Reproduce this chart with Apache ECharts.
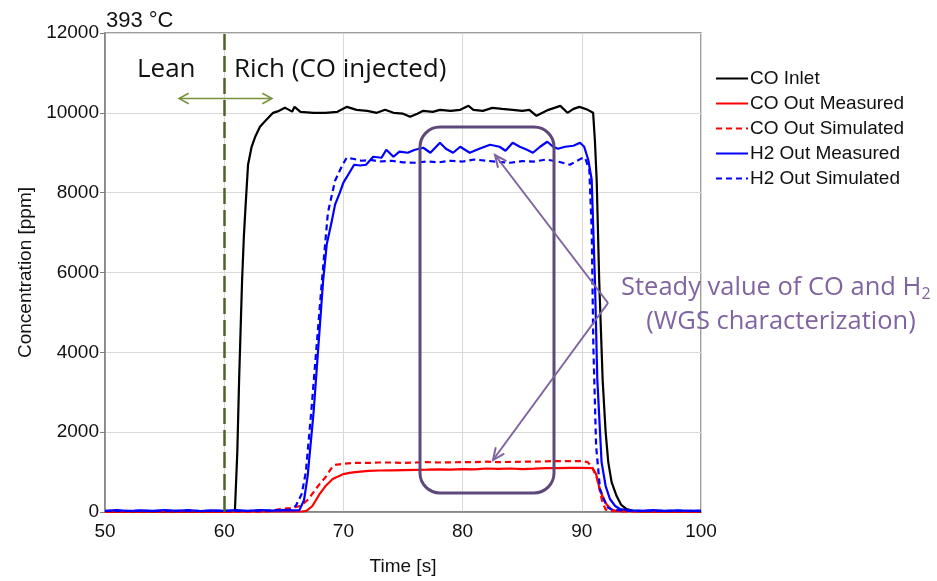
<!DOCTYPE html>
<html>
<head>
<meta charset="utf-8">
<script src="https://cdn.jsdelivr.net/npm/echarts@6/dist/echarts.min.js"></script>
<style>html,body{margin:0;padding:0;background:#fff}#c{width:937px;height:581px}</style>
</head>
<body>
<div id="c"></div>
<script>
// ---- data (time [s], concentration [ppm]) ----
const xTicks = [50, 60, 70, 80, 90, 100];
const yTicks = [0, 2000, 4000, 6000, 8000, 10000, 12000];
const seriesNames = ['CO Inlet', 'CO Out Measured', 'CO Out Simulated', 'H2 Out Measured', 'H2 Out Simulated'];

const coInlet = [[50,10],[52,15],[54,10],[56,15],[58,10],[60,12],[60.6,15],[60.9,40],[61.1,1500],[61.25,3300],[61.4,4800],[61.5,5800],[61.65,6900],[61.8,7700],[62.0,8700],[62.3,9150],[62.6,9400],[63.0,9650],[63.4,9780],[64.1,10000],[64.6,10050],[65.1,10125],[65.4,10080],[65.7,10030],[65.9,10150],[66.4,10025],[67.5,10000],[68.5,10000],[69.5,10025],[70.3,10150],[71.1,10075],[72.0,10050],[72.8,10000],[73.5,10075],[74.2,10000],[75.0,9980],[75.6,9900],[76.2,9980],[76.7,10050],[77.5,10025],[78.1,10075],[79.0,10050],[79.8,10075],[80.5,10175],[80.9,10075],[81.7,10050],[82.5,10125],[83.3,10100],[84.2,10075],[85.0,10050],[85.6,10075],[86.2,9925],[87.2,10075],[88.2,10175],[88.8,10000],[89.3,10100],[89.8,10150],[90.5,10075],[90.95,10000],[91.1,9300],[91.25,8300],[91.46,5800],[91.75,3300],[92.0,2000],[92.22,1250],[92.5,750],[92.92,400],[93.3,180],[93.76,75],[94.3,30],[95,15],[97,12],[100,10]];

const coOutMeas = [[50,10],[55,12],[60,10],[64,12],[66.5,12],[66.9,30],[67.4,150],[68.0,450],[68.5,650],[69.1,825],[69.5,880],[70.0,950],[70.5,980],[71.0,1000],[72.1,1030],[73,1040],[74,1045],[75,1050],[76,1055],[77,1060],[78,1070],[79,1060],[80,1075],[81,1070],[82,1090],[83,1080],[84,1090],[85,1075],[86,1085],[87,1100],[88,1100],[89,1105],[90,1105],[90.9,1100],[91.2,950],[91.5,575],[91.8,350],[92.1,180],[92.5,60],[93,20],[95,12],[100,10]];

const coOutSim = [[50,10],[55,10],[60,10],[63.5,12],[64.0,30],[64.7,75],[65.5,100],[66.4,150],[67.0,300],[67.5,500],[68.0,700],[68.5,870],[69.0,1100],[69.3,1180],[70,1210],[71,1230],[72,1230],[73,1240],[74,1240],[75,1230],[76,1240],[77,1250],[78,1240],[79,1245],[80,1250],[81,1250],[82,1260],[83,1250],[84,1255],[85,1260],[86,1260],[87,1270],[88,1275],[89,1275],[90,1275],[90.5,1250],[90.9,1100],[91.3,825],[91.7,280],[92.0,60],[92.5,20],[95,12],[100,10]];

const h2OutMeas = [[50,30],[51,45],[52,25],[53,40],[54,30],[55,50],[56,30],[57,45],[58,25],[59,40],[60,30],[61,45],[62,30],[63,50],[64,35],[65,45],[65.8,40],[66.3,40],[66.7,300],[67.0,900],[67.5,2500],[67.9,4150],[68.3,5800],[68.6,6700],[69.0,7250],[69.3,7700],[69.7,8000],[70.0,8250],[70.4,8450],[70.9,8700],[71.4,8680],[71.9,8700],[72.5,8900],[73.2,8875],[73.6,9075],[74.2,8900],[74.7,9030],[75.4,9000],[76.0,9075],[76.7,9125],[77.3,9000],[78.1,9250],[78.6,9100],[79.2,9000],[79.8,9150],[80.6,9000],[81.4,9100],[82.3,9200],[83.1,9150],[83.6,9050],[84.2,9250],[84.8,9150],[85.4,9075],[85.9,9000],[86.5,9150],[87.1,9275],[87.6,9150],[88.0,9100],[88.6,9150],[89.3,9175],[89.85,9250],[90.2,9150],[90.54,8825],[90.83,8325],[91.1,5825],[91.3,3325],[91.66,1250],[92.0,650],[92.36,325],[92.8,150],[93.2,75],[94,40],[95,30],[96,45],[97,30],[98,40],[99,30],[100,35]];

const h2OutSim = [[50,25],[52,30],[54,25],[56,30],[58,25],[60,30],[62,25],[64,35],[65.0,45],[65.5,60],[66.0,150],[66.5,450],[66.85,1000],[67.3,2500],[67.75,4150],[68.2,5800],[68.7,7500],[69.3,8300],[69.85,8650],[70.27,8875],[70.8,8850],[71.5,8800],[72.3,8820],[73,8780],[74,8800],[75,8760],[76,8750],[77,8780],[78,8760],[79,8800],[80,8780],[81,8830],[82,8800],[83,8770],[84,8750],[85,8790],[86,8780],[87,8830],[88,8780],[89,8700],[89.6,8800],[90.0,8860],[90.27,8875],[90.63,8575],[90.83,7075],[90.97,4150],[91.2,1650],[91.53,575],[92.1,125],[92.6,50],[94,30],[96,25],[98,30],[100,25]];

const lean = 'Lean';
const rich = 'Rich (CO injected)';
const tempLabel = '393 °C';

// ---- chart ----
const chart = echarts.init(document.getElementById('c'), null, {renderer: 'canvas'});
const AF = '"Liberation Sans", Arial, sans-serif';
const CF = '"Open Sans", Lato, sans-serif';
const purple = '#8064A2';
const olive = '#76923C';

function arrowHead(x, y, fromX, fromY, len, ang, color, w) {
  const a = Math.atan2(fromY - y, fromX - x);
  return {
    type: 'polyline', z: 100,
    shape: {points: [[x + len * Math.cos(a + ang), y + len * Math.sin(a + ang)], [x, y], [x + len * Math.cos(a - ang), y + len * Math.sin(a - ang)]]},
    style: {stroke: color, lineWidth: w, fill: null}
  };
}

const vx = 608, vy = 303;
const upX = 495, upY = 155, loX = 493, loY = 460;

const option = {
  animation: false,
  backgroundColor: '#fff',
  grid: {left: 105, top: 33, width: 596, height: 480, show: true, borderColor: '#808080', borderWidth: 1.5, containLabel: false},
  legend: {
    orient: 'vertical', left: 710, top: 64, itemWidth: 32, itemHeight: 19, itemGap: 6,
    itemStyle: {opacity: 0, color: 'rgba(0,0,0,0)', borderWidth: 0},
    textStyle: {fontFamily: AF, fontSize: 19, color: '#111', padding: [0, 0, 0, -3]},
    data: seriesNames
  },
  xAxis: {
    type: 'value', min: xTicks[0], max: xTicks[xTicks.length - 1], interval: 10,
    name: 'Time [s]', nameLocation: 'middle', nameGap: 45,
    nameTextStyle: {fontFamily: AF, fontSize: 19, color: '#111'},
    axisLine: {lineStyle: {color: '#808080', width: 1.5}},
    axisTick: {show: false},
    axisLabel: {fontFamily: AF, fontSize: 19, color: '#111', margin: 10},
    splitLine: {show: true, lineStyle: {color: '#d9d9d9', width: 1}}
  },
  yAxis: {
    type: 'value', min: yTicks[0], max: yTicks[yTicks.length - 1], interval: 2000,
    name: 'Concentration [ppm]', nameLocation: 'middle', nameGap: 70,
    nameTextStyle: {fontFamily: AF, fontSize: 19, color: '#111'},
    axisLine: {show: true, lineStyle: {color: '#808080', width: 1.5}},
    axisTick: {show: true, length: 5, lineStyle: {color: '#808080'}},
    axisLabel: {fontFamily: AF, fontSize: 19, color: '#111', margin: 6, formatter: v => String(v)},
    splitLine: {show: true, lineStyle: {color: '#d9d9d9', width: 1}}
  },
  series: [
    {name: seriesNames[0], type: 'line', data: coInlet, symbol: 'none', lineStyle: {color: '#000', width: 2.2}, itemStyle: {color: '#000'},
      markLine: {silent: true, symbol: 'none', label: {show: false}, lineStyle: {color: '#4F6228', width: 2.5, type: [16, 6]}, data: [{xAxis: 60}]}},
    {name: seriesNames[1], type: 'line', data: coOutMeas, symbol: 'none', lineStyle: {color: '#ff0000', width: 2.2}, itemStyle: {color: '#ff0000'}},
    {name: seriesNames[2], type: 'line', data: coOutSim, symbol: 'none', lineStyle: {color: '#ff0000', width: 2.2, type: [6, 4]}, itemStyle: {color: '#ff0000'}},
    {name: seriesNames[3], type: 'line', data: h2OutMeas, symbol: 'none', lineStyle: {color: '#0000ff', width: 2.2}, itemStyle: {color: '#0000ff'}},
    {name: seriesNames[4], type: 'line', data: h2OutSim, symbol: 'none', lineStyle: {color: '#0000ff', width: 2.2, type: [6, 4]}, itemStyle: {color: '#0000ff'}}
  ],
  graphic: [
    {type: 'text', z: 100, x: 106, y: 21, style: {text: tempLabel, font: '22px ' + AF, fill: '#111', verticalAlign: 'middle', align: 'left'}},
    {type: 'text', z: 100, x: 137, y: 70, style: {text: lean, font: '26px ' + CF, fill: '#111', verticalAlign: 'middle', align: 'left'}},
    {type: 'text', z: 100, x: 234, y: 70, style: {text: rich, font: '26px ' + CF, fill: '#111', verticalAlign: 'middle', align: 'left'}},
    {type: 'line', z: 100, shape: {x1: 179, y1: 98.5, x2: 272, y2: 98.5}, style: {stroke: olive, lineWidth: 1.5}},
    arrowHead(179, 98.5, 272, 98.5, 11, 0.5, olive, 1.5),
    arrowHead(272, 98.5, 179, 98.5, 11, 0.5, olive, 1.5),
    {type: 'rect', z: 100, shape: {x: 420, y: 127, width: 134, height: 366, r: 20}, style: {fill: null, stroke: '#5F497A', lineWidth: 3}},
    {type: 'line', z: 100, shape: {x1: vx, y1: vy, x2: upX, y2: upY}, style: {stroke: purple, lineWidth: 2}},
    {type: 'line', z: 100, shape: {x1: vx, y1: vy, x2: loX, y2: loY}, style: {stroke: purple, lineWidth: 2}},
    arrowHead(upX, upY, vx, vy, 13, 0.42, purple, 2),
    arrowHead(loX, loY, vx, vy, 13, 0.42, purple, 2),
    {type: 'text', z: 100, x: 621, y: 288, style: {
      text: '{a|Steady value of CO and H}{b|2}', verticalAlign: 'middle', align: 'left',
      rich: {a: {fontFamily: CF, fontSize: 25.5, fill: purple, color: purple}, b: {fontFamily: CF, fontSize: 16, color: purple, fill: purple, padding: [13, 0, 0, 0]}}
    }},
    {type: 'text', z: 100, x: 781, y: 322, style: {text: '(WGS characterization)', font: '25.5px ' + CF, fill: purple, verticalAlign: 'middle', align: 'center'}}
  ]
};
chart.setOption(option);
</script>
</body>
</html>
